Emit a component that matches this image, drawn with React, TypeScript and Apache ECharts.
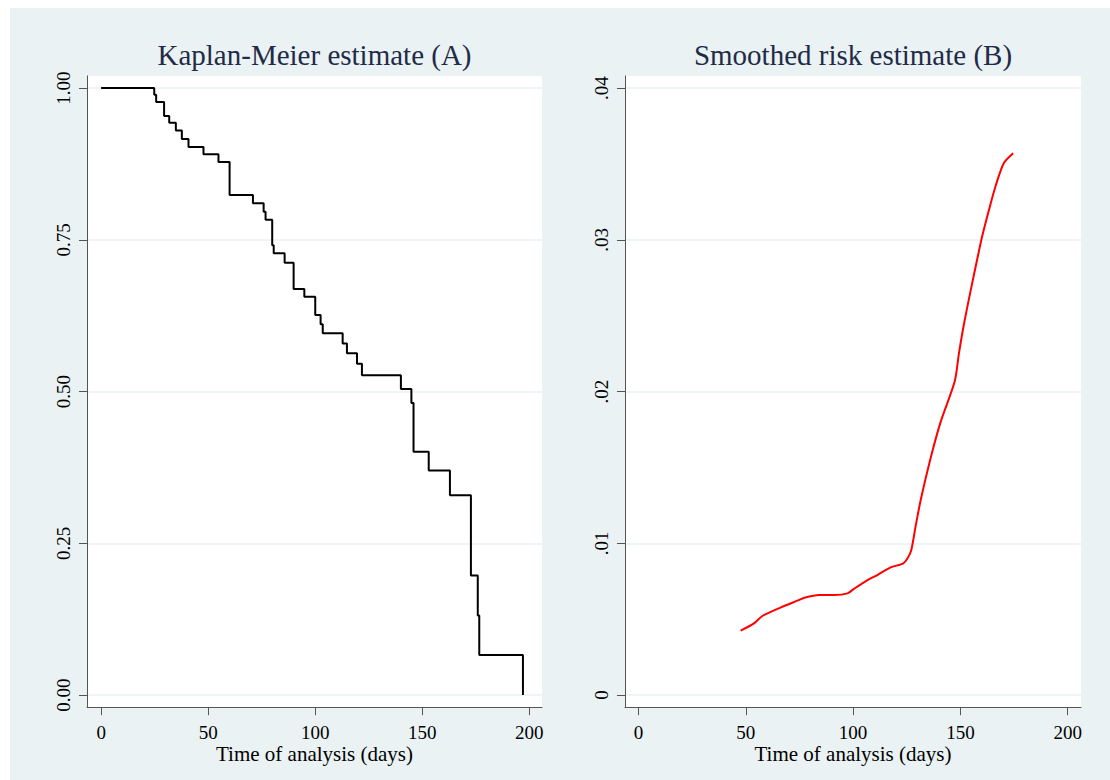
import React, { useEffect, useRef } from 'react';
import * as echarts from 'echarts';

// Kaplan-Meier step function (event time, survival after the step)
const kmTimes = [0, 24.8, 25.7, 29.4, 31.8, 34.9, 37.7, 40.8, 47.8, 54.8, 60.0, 70.9, 75.9, 76.8, 79.9, 80.6, 85.7, 89.9, 94.9, 100.0, 102.5, 103.5, 112.8, 114.8, 119.5, 121.8, 140.0, 144.9, 145.9, 153.0, 162.9, 172.7, 175.9, 176.6, 197.0];
const kmSurvival = [1, 0.989, 0.977, 0.954, 0.943, 0.930, 0.916, 0.903, 0.891, 0.878, 0.824, 0.810, 0.796, 0.783, 0.741, 0.728, 0.712, 0.669, 0.656, 0.626, 0.611, 0.596, 0.579, 0.563, 0.546, 0.527, 0.504, 0.481, 0.401, 0.370, 0.329, 0.197, 0.131, 0.066, 0];

// Smoothed risk (hazard) estimate
const riskTimes = [47.6, 53.8, 57.7, 66.4, 74.0, 77.3, 84.2, 91.2, 97.4, 100.4, 106.7, 111.3, 117.5, 123.4, 125.3, 127.1, 129.1, 131.5, 136.1, 140.8, 147.4, 149.3, 151.6, 154.7, 157.8, 160.1, 163.3, 166.3, 170.2, 174.6];
const riskValues = [0.00424, 0.00472, 0.00521, 0.00578, 0.00622, 0.00641, 0.00659, 0.00659, 0.0067, 0.007, 0.00758, 0.00791, 0.00841, 0.00868, 0.009, 0.00955, 0.0111, 0.01285, 0.0156, 0.018, 0.0207, 0.0225, 0.0244, 0.0266, 0.0287, 0.0302, 0.03196, 0.0335, 0.03504, 0.0357];

const xTicks = [0, 50, 100, 150, 200];
const xTickLabels = ['0', '50', '100', '150', '200'];
const kmYTicks = [0, 0.25, 0.5, 0.75, 1];
const kmYLabels = ['0.00', '0.25', '0.50', '0.75', '1.00'];
const riskYTicks = [0, 0.01, 0.02, 0.03, 0.04];
const riskYLabels = ['0', '.01', '.02', '.03', '.04'];
const panelTitles = ['Kaplan-Meier estimate (A)', 'Smoothed risk estimate (B)'];
const xAxisTitle = 'Time of analysis (days)';

const FONT = '"Liberation Serif", "Times New Roman", Times, serif';
const BG = '#eaf2f3';
const AXIS = '#555555';

function labelFor(ticks: number[], labels: string[]) {
  return (v: number) => {
    let best = 0;
    for (let i = 1; i < ticks.length; i++) {
      if (Math.abs(ticks[i] - v) < Math.abs(ticks[best] - v)) best = i;
    }
    return labels[best];
  };
}

function makeX(gridIndex: number, min: number, max: number) {
  return {
    type: 'value',
    gridIndex,
    min,
    max,
    axisLine: { show: true, onZero: false, lineStyle: { color: AXIS, width: 1 } },
    axisTick: { show: true, length: 8, customValues: xTicks, lineStyle: { color: AXIS, width: 1 } },
    axisLabel: {
      customValues: xTicks,
      formatter: labelFor(xTicks, xTickLabels),
      fontSize: 19,
      lineHeight: 19,
      fontFamily: FONT,
      color: '#000',
      margin: 16,
    },
    splitLine: { show: false },
    name: xAxisTitle,
    nameLocation: 'middle',
    nameGap: 36,
    nameMoveOverlap: false,
    nameTextStyle: { fontSize: 21, lineHeight: 21, fontFamily: FONT, color: '#000' },
  };
}

function makeY(gridIndex: number, min: number, max: number, ticks: number[], labels: string[]) {
  return {
    type: 'value',
    gridIndex,
    min,
    max,
    axisLine: { show: true, onZero: false, lineStyle: { color: AXIS, width: 1 } },
    axisTick: { show: true, length: 8, customValues: ticks, lineStyle: { color: AXIS, width: 1 } },
    axisLabel: {
      customValues: ticks,
      formatter: labelFor(ticks, labels),
      rotate: 90,
      fontSize: 19,
      fontFamily: FONT,
      color: '#000',
      margin: 14,
    },
    splitLine: { show: true, lineStyle: { color: BG, width: 1.5 } },
  };
}

export default function App() {
  const ref = useRef<HTMLDivElement>(null);
  useEffect(() => {
    if (!ref.current) return;
    const chart = echarts.init(ref.current, undefined, { renderer: 'svg' });
    const option = {
      animation: false,
      backgroundColor: BG,
      graphic: [
        { type: 'rect', shape: { x: 0, y: 0, width: 1110, height: 8 }, style: { fill: '#ffffff' }, silent: true },
        { type: 'rect', shape: { x: 0, y: 0, width: 10, height: 780 }, style: { fill: '#ffffff' }, silent: true },
        {
          type: 'text', x: 314.5, y: 55,
          style: { text: panelTitles[0], font: `29px ${FONT}`, fill: '#1f2b48', align: 'center', verticalAlign: 'middle' },
        },
        {
          type: 'text', x: 853, y: 55,
          style: { text: panelTitles[1], font: `29px ${FONT}`, fill: '#1f2b48', align: 'center', verticalAlign: 'middle' },
        },
      ],
      grid: [
        { left: 87, top: 75.9, width: 455, height: 631.3, show: true, backgroundColor: '#ffffff', borderWidth: 0 },
        { left: 625, top: 75.9, width: 456, height: 631.3, show: true, backgroundColor: '#ffffff', borderWidth: 0 },
      ],
      xAxis: [makeX(0, -6.6, 205.9), makeX(1, -6.3, 206.2)],
      yAxis: [
        makeY(0, -0.02, 1.02, kmYTicks, kmYLabels),
        makeY(1, -0.0008, 0.0408, riskYTicks, riskYLabels),
      ],
      series: [
        {
          type: 'line',
          xAxisIndex: 0,
          yAxisIndex: 0,
          data: kmTimes.map((t, i) => [t, kmSurvival[i]]),
          step: 'end',
          symbol: 'none',
          lineStyle: { color: '#000000', width: 2 },
        },
        {
          type: 'line',
          xAxisIndex: 1,
          yAxisIndex: 1,
          data: riskTimes.map((t, i) => [t, riskValues[i]]),
          smooth: 0.25,
          symbol: 'none',
          lineStyle: { color: '#ff0000', width: 2 },
        },
      ],
    };
    chart.setOption(option as any);
    return () => chart.dispose();
  }, []);
  return (
    <div
      ref={ref}
      style={{ position: 'fixed', left: 0, top: 0, width: 1110, height: 780 }}
    />
  );
}
